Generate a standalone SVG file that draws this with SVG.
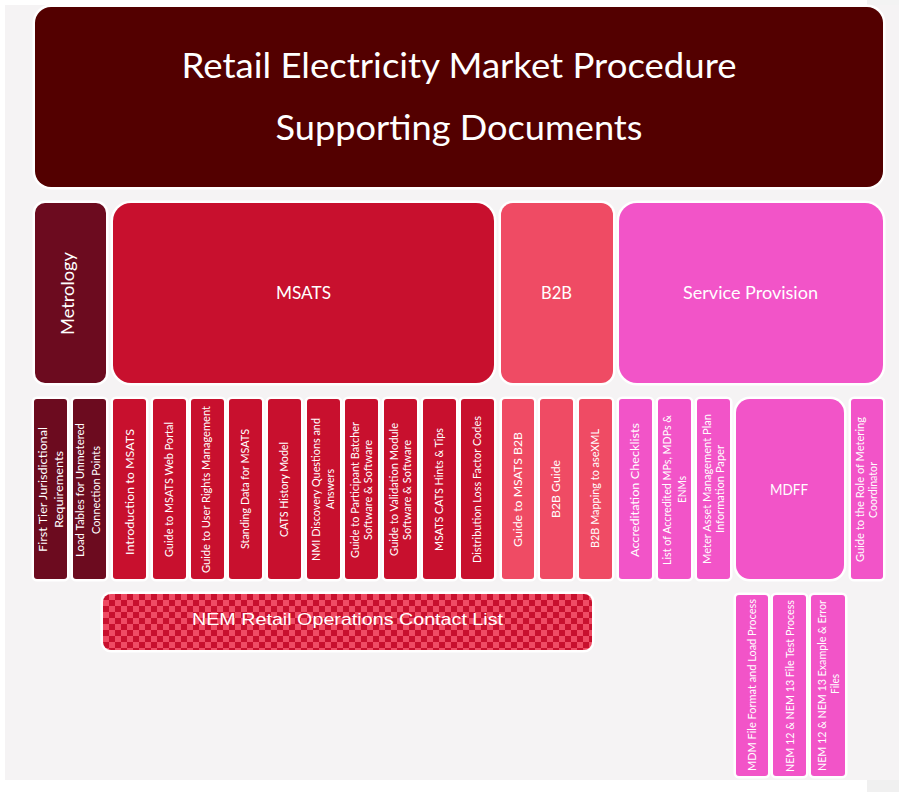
<svg xmlns="http://www.w3.org/2000/svg" width="899" height="792" viewBox="0 0 899 792">
<style>
.bg{fill:#f5f3f4}
.box{stroke:#fff;stroke-width:5;paint-order:stroke}
.ttl{fill:#530000}
.met{fill:#6c0b1f}
.ms{fill:#c8102e}
.b2b{fill:#ef4b64}
.sp{fill:#f254c8}
text{font-family:Lato,"Open Sans","Liberation Sans",sans-serif;fill:#fff;text-anchor:middle}
.t{font-size:12px}
.h{font-size:17px}
.arial{font-family:"Liberation Sans",Arial,sans-serif}
</style>
<defs>
<pattern id="chk" x="103" y="594" width="12" height="12" patternUnits="userSpaceOnUse">
<rect width="12" height="12" fill="#c8102e"/>
<rect x="6" width="6" height="6" fill="#ef4b64"/>
<rect y="6" width="6" height="6" fill="#ef4b64"/>
</pattern>
</defs>
<rect class="bg" x="5" y="5" width="894" height="775"/>
<rect x="867" y="0" width="32" height="5" fill="#f3f3f3"/>
<rect x="867" y="780" width="32" height="12" fill="#f0f0f0"/>

<g id="title">
<rect class="box ttl" x="35" y="7" width="848" height="180" rx="16"/>
<text x="459" y="78" font-size="35" textLength="555" lengthAdjust="spacingAndGlyphs">Retail Electricity Market Procedure</text>
<text x="459" y="140" font-size="35" textLength="367" lengthAdjust="spacingAndGlyphs">Supporting Documents</text>
</g>

<g id="metrology">
<rect class="box met" x="35" y="203" width="71" height="180" rx="10"/>
<text transform="translate(74.4,293.5) rotate(-90)" font-size="18" textLength="83" lengthAdjust="spacingAndGlyphs">Metrology</text>
</g>
<g id="msats">
<rect class="box ms" x="113" y="203" width="381" height="180" rx="18"/>
<text class="h" x="303.5" y="299" textLength="55" lengthAdjust="spacingAndGlyphs">MSATS</text>
</g>
<g id="b2b">
<rect class="box b2b" x="501" y="203" width="112" height="180" rx="12"/>
<text class="h" x="556.5" y="299" textLength="31" lengthAdjust="spacingAndGlyphs">B2B</text>
</g>
<g id="service-provision">
<rect class="box sp" x="619" y="203" width="264" height="180" rx="18"/>
<text class="h" x="750.5" y="299" textLength="135" lengthAdjust="spacingAndGlyphs">Service Provision</text>
</g>

<g id="first-tier">
<rect class="box met" x="34" y="399" width="33" height="180" rx="3"/>
<text class="t" font-size="13" transform="translate(46.6,489.5) rotate(-90)" textLength="125" lengthAdjust="spacingAndGlyphs">First Tier Jurisdictional</text>
<text class="t" font-size="13" transform="translate(63.2,489.5) rotate(-90)" textLength="77" lengthAdjust="spacingAndGlyphs">Requirements</text>
</g>
<g id="load-tables">
<rect class="box met" x="73" y="399" width="33" height="180" rx="3"/>
<text class="t" transform="translate(83.6,490) rotate(-90)" textLength="134" lengthAdjust="spacingAndGlyphs">Load Tables for Unmetered</text>
<text class="t" transform="translate(99.6,490) rotate(-90)" textLength="88" lengthAdjust="spacingAndGlyphs">Connection Points</text>
</g>
<g id="intro-msats">
<rect class="box ms" x="113" y="399" width="33" height="180" rx="3"/>
<text class="t" font-size="14.5" transform="translate(133.7,492) rotate(-90)" textLength="126" lengthAdjust="spacingAndGlyphs">Introduction to MSATS</text>
</g>
<g id="web-portal">
<rect class="box ms" x="153" y="399" width="33" height="180" rx="3"/>
<text class="t" font-size="11.5" transform="translate(172.8,489.5) rotate(-90)" textLength="135" lengthAdjust="spacingAndGlyphs">Guide to MSATS Web Portal</text>
</g>
<g id="user-rights">
<rect class="box ms" x="191" y="399" width="33" height="180" rx="3"/>
<text class="t" transform="translate(210.3,489.5) rotate(-90)" textLength="167" lengthAdjust="spacingAndGlyphs">Guide to User Rights Management</text>
</g>
<g id="standing-data">
<rect class="box ms" x="229" y="399" width="33" height="180" rx="3"/>
<text class="t" transform="translate(248.6,489) rotate(-90)" textLength="120" lengthAdjust="spacingAndGlyphs">Standing Data for MSATS</text>
</g>
<g id="cats-history">
<rect class="box ms" x="268" y="399" width="33" height="180" rx="3"/>
<text class="t" font-size="12.5" transform="translate(287.8,489.5) rotate(-90)" textLength="95" lengthAdjust="spacingAndGlyphs">CATS History Model</text>
</g>
<g id="nmi-discovery">
<rect class="box ms" x="307" y="399" width="33" height="180" rx="3"/>
<text class="t" transform="translate(320.3,489.5) rotate(-90)" textLength="143" lengthAdjust="spacingAndGlyphs">NMI Discovery Questions and</text>
<text class="t" transform="translate(333.6,489) rotate(-90)" textLength="40" lengthAdjust="spacingAndGlyphs">Answers</text>
</g>
<g id="participant-batcher">
<rect class="box ms" x="345" y="399" width="33" height="180" rx="3"/>
<text class="t" transform="translate(358.6,490) rotate(-90)" textLength="136" lengthAdjust="spacingAndGlyphs">Guide to Participant Batcher</text>
<text class="t" transform="translate(371.6,490) rotate(-90)" textLength="100" lengthAdjust="spacingAndGlyphs">Software &amp; Software</text>
</g>
<g id="validation-module">
<rect class="box ms" x="384" y="399" width="33" height="180" rx="3"/>
<text class="t" transform="translate(397.6,489.5) rotate(-90)" textLength="133" lengthAdjust="spacingAndGlyphs">Guide to Validation Module</text>
<text class="t" transform="translate(410.6,490) rotate(-90)" textLength="100" lengthAdjust="spacingAndGlyphs">Software &amp; Software</text>
</g>
<g id="hints-tips">
<rect class="box ms" x="423" y="399" width="33" height="180" rx="3"/>
<text class="t" font-size="12.5" transform="translate(442.8,489.5) rotate(-90)" textLength="123" lengthAdjust="spacingAndGlyphs">MSATS CATS Hints &amp; Tips</text>
</g>
<g id="dlf-codes">
<rect class="box ms" x="461" y="399" width="33" height="180" rx="3"/>
<text class="t" transform="translate(480.6,489.5) rotate(-90)" textLength="147" lengthAdjust="spacingAndGlyphs">Distribution Loss Factor Codes</text>
</g>
<g id="msats-b2b">
<rect class="box b2b" x="502" y="399" width="32" height="180" rx="3"/>
<text class="t" font-size="14" transform="translate(522.2,489.5) rotate(-90)" textLength="115" lengthAdjust="spacingAndGlyphs">Guide to MSATS B2B</text>
</g>
<g id="b2b-guide">
<rect class="box b2b" x="540" y="399" width="33" height="180" rx="3"/>
<text class="t" transform="translate(559.6,489) rotate(-90)" textLength="58" lengthAdjust="spacingAndGlyphs">B2B Guide</text>
</g>
<g id="b2b-mapping">
<rect class="box b2b" x="579" y="399" width="33" height="180" rx="3"/>
<text class="t" font-size="11" transform="translate(599.3,488.5) rotate(-90)" textLength="119" lengthAdjust="spacingAndGlyphs">B2B Mapping to aseXML</text>
</g>
<g id="accreditation">
<rect class="box sp" x="619" y="399" width="33" height="180" rx="3"/>
<text class="t" font-size="14" transform="translate(639.2,490) rotate(-90)" textLength="134" lengthAdjust="spacingAndGlyphs">Accreditation Checklists</text>
</g>
<g id="accredited-list">
<rect class="box sp" x="658" y="399" width="33" height="180" rx="3"/>
<text class="t" font-size="11.5" transform="translate(670.5,490) rotate(-90)" textLength="150" lengthAdjust="spacingAndGlyphs">List of Accredited MPs, MDPs &amp;</text>
<text class="t" font-size="11.5" transform="translate(685.5,489.5) rotate(-90)" textLength="27" lengthAdjust="spacingAndGlyphs">ENMs</text>
</g>
<g id="meter-asset">
<rect class="box sp" x="697" y="399" width="33" height="180" rx="3"/>
<text class="t" font-size="11.5" transform="translate(710.5,489) rotate(-90)" textLength="150" lengthAdjust="spacingAndGlyphs">Meter Asset Management Plan</text>
<text class="t" font-size="11.5" transform="translate(723.5,489) rotate(-90)" textLength="88" lengthAdjust="spacingAndGlyphs">Information Paper</text>
</g>
<g id="mdff">
<rect class="box sp" x="736" y="399" width="108" height="180" rx="14"/>
<text x="789" y="495" font-size="16" textLength="38" lengthAdjust="spacingAndGlyphs">MDFF</text>
</g>
<g id="metering-coordinator">
<rect class="box sp" x="851" y="399" width="32" height="180" rx="3"/>
<text class="t" font-size="11.5" transform="translate(863.5,489.5) rotate(-90)" textLength="145" lengthAdjust="spacingAndGlyphs">Guide to the Role of Metering</text>
<text class="t" font-size="11.5" transform="translate(876.5,490) rotate(-90)" textLength="56" lengthAdjust="spacingAndGlyphs">Coordinator</text>
</g>

<g id="nem-contact-list">
<rect class="box" x="103" y="594" width="489" height="56" rx="8" fill="url(#chk)"/>
<text class="arial" x="347.5" y="624.5" font-size="17" textLength="311" lengthAdjust="spacingAndGlyphs">NEM Retail Operations Contact List</text>
</g>

<g id="mdm-file-format">
<rect class="box sp" x="736" y="595" width="32" height="181" rx="3"/>
<text class="t" font-size="11.5" transform="translate(755.5,685) rotate(-90)" textLength="172" lengthAdjust="spacingAndGlyphs">MDM File Format and Load Process</text>
</g>
<g id="nem-test-process">
<rect class="box sp" x="773" y="595" width="33" height="181" rx="3"/>
<text class="t" font-size="11.5" transform="translate(793.5,686) rotate(-90)" textLength="172" lengthAdjust="spacingAndGlyphs">NEM 12 &amp; NEM 13 File Test Process</text>
</g>
<g id="nem-example-files">
<rect class="box sp" x="811" y="595" width="34" height="181" rx="3"/>
<text class="t" font-size="11.5" transform="translate(825.5,685.5) rotate(-90)" textLength="171" lengthAdjust="spacingAndGlyphs">NEM 12 &amp; NEM 13 Example &amp; Error</text>
<text class="t" font-size="11.5" transform="translate(838.5,684) rotate(-90)" textLength="20" lengthAdjust="spacingAndGlyphs">Files</text>
</g>

<g id="connectors"></g>
</svg>
